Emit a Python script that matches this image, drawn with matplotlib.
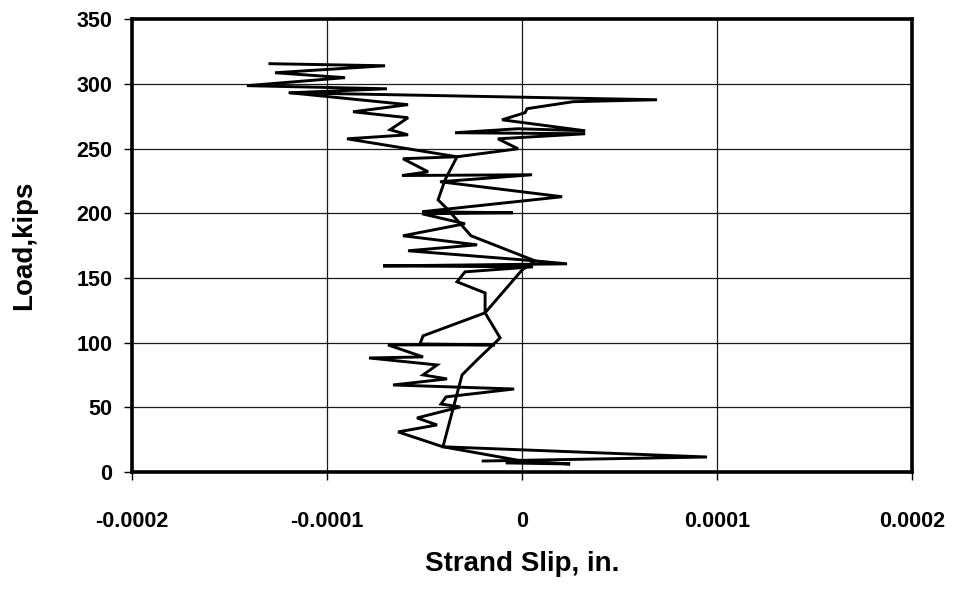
import matplotlib
matplotlib.use("Agg")
import matplotlib.pyplot as plt
import numpy as np

# Strand slip in micro-inches (x1e-6 in.), load in kips
slip_a = [-7.5, 24.8, 0.2, -40.4, -63.4, -43.4, -53.7, -31.6, -41.4, -38.8,
          -3.9, -66.0, -38.3, -50.6, -43.4, -78.3, -50.6, -68.6, -13.7, -52.2,
          -50.6, -18.8, -18.8, -33.2, -29.1, 5.8, -71.1, 23.2, 6.8, -58.3,
          -22.9, -60.9, -29.1, -51.1, -4.5, -51.1, 20.7, -41.9, 5.3, -61.4,
          -48.0, -60.9, -33.2, -1.9, -12.2, 32.5, -34.2, -1.9, 32.5, -10.1,
          1.7, 2.7, 26.3, 69.4, -118.8, -69.1, -140.9, -90.6, -126.5, -70.1,
          -129.1]
load_a = [7.0, 6.2, 8.5, 19.5, 31.0, 36.4, 41.8, 50.3, 52.6, 58.1,
          64.2, 67.3, 72.0, 75.1, 82.8, 88.2, 89.0, 98.3, 98.3, 99.0,
          105.3, 123.1, 138.5, 147.1, 154.8, 158.7, 159.4, 161.0, 163.3, 171.1,
          175.7, 182.7, 192.0, 199.7, 200.5, 201.3, 212.9, 224.5, 229.9, 229.3,
          232.2, 242.3, 243.8, 250.0, 257.7, 261.6, 262.4, 265.5, 263.9, 272.4,
          277.9, 281.0, 286.4, 287.9, 293.3, 296.4, 298.8, 305.0, 308.8, 314.2,
          315.8]

slip_b = [-118.8, -58.3, -86.5, -58.3, -67.5, -58.3, -89.6, -33.2, -39.3, -42.9,
          -38.3, -26.0, 6.8, 0.2, -18.8, -11.1, -22.9, -30.6, -40.4, 95.0,
          -19.8]
load_b = [293.3, 284.1, 278.6, 274.0, 264.7, 260.8, 257.7, 243.8, 226.0, 210.5,
          203.6, 182.7, 163.3, 156.3, 123.1, 103.7, 86.7, 75.1, 19.5, 11.6,
          8.5]

x_ticks = [-0.0002, -0.0001, 0, 0.0001, 0.0002]
x_tick_labels = ["-0.0002", "-0.0001", "0", "0.0001", "0.0002"]
y_ticks = [0, 50, 100, 150, 200, 250, 300, 350]

plt.rcParams['font.family'] = ['Liberation Sans', 'DejaVu Sans']

fig = plt.figure(figsize=(9.68, 5.90), dpi=100)
ax = fig.add_axes([0.136, 0.2, 0.806, 0.767])

ax.plot(np.array(slip_a) * 1e-6, load_a, color='black', lw=2.1,
        solid_joinstyle='miter', zorder=3)
ax.plot(np.array(slip_b) * 1e-6, load_b, color='black', lw=2.1,
        solid_joinstyle='miter', zorder=3)

ax.set_xlim(-0.0002, 0.0002)
ax.set_ylim(0, 350)
ax.set_xticks(x_ticks)
ax.set_xticklabels(x_tick_labels)
ax.set_yticks(y_ticks)
ax.grid(True, color='#1a1a1a', lw=0.9, zorder=0)
ax.set_axisbelow(True)

for s in ax.spines.values():
    s.set_linewidth(2.6)
    s.set_color('black')

ax.tick_params(axis='x', length=6, width=1, direction='out', pad=22,
               labelsize=15.5)
ax.tick_params(axis='y', length=6, width=1, direction='out', pad=8,
               labelsize=15.5)
for lbl in ax.get_xticklabels() + ax.get_yticklabels():
    lbl.set_fontweight('bold')

ax.set_xlabel("Strand Slip, in.", fontsize=20, fontweight='bold', labelpad=14)
ax.set_ylabel("Load,kips", fontsize=20, fontweight='bold', labelpad=28)

fig.savefig("out.png", dpi=100)
